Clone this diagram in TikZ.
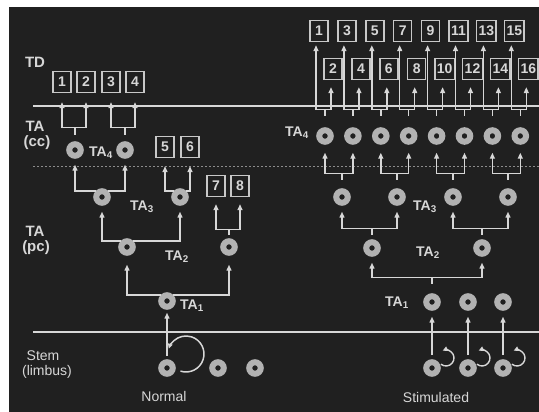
\documentclass[tikz,border=0pt]{standalone}
\usepackage{fontspec}
\setmainfont{Liberation Sans}
\usetikzlibrary{arrows.meta}
\definecolor{bg}{RGB}{32,32,32}
\definecolor{fg}{RGB}{215,215,215}
\definecolor{ring}{RGB}{178,178,178}
\definecolor{boxc}{RGB}{200,200,200}
\definecolor{dotc}{RGB}{140,140,140}
\begin{document}
\begin{tikzpicture}[x=1pt,y=1pt,
  cell/.style={circle, draw=ring, line width=6pt, minimum size=11.5pt, inner sep=0pt, fill=bg},
  num/.style={draw=boxc, line width=1.4pt, fill=bg, text=fg, font=\bfseries\fontsize{14}{14}\selectfont, minimum width=18pt, minimum height=21pt, inner xsep=2pt, inner ysep=1pt},
  lab/.style={text=fg, font=\bfseries\fontsize{15}{15}\selectfont, inner sep=0pt},
  tlab/.style={text=fg, font=\bfseries\fontsize{14}{14}\selectfont, inner sep=0pt},
  plab/.style={text=fg, font=\fontsize{14}{14}\selectfont, inner sep=0pt},
  conn/.style={draw=fg, line width=1.4pt},
  arr/.style={conn, -{Triangle[length=6pt,width=5pt]}},
  sarr/.style={conn, -{Triangle[length=5pt,width=4.5pt]}},
]
\useasboundingbox (0,0) rectangle (539,412);
\fill[white] (0,0) rectangle (539,412);
\fill[bg] (9,0) rectangle (539,405);

% level lines
\draw[fg, line width=1.6pt] (33,306) -- (539,306);
\draw[dotc, line width=1pt, dash pattern=on 2pt off 2pt] (33,245) -- (539,245);
\draw[fg, line width=1.5pt] (33,80) -- (539,80);

% side labels
\node[lab] (lTD) at (35,350) {TD};
\node[lab] (lTAc) at (35,286) {TA};
\node[lab] (lcc) at (37,269) {(cc)};
\node[lab] (lTAp) at (35,181) {TA};
\node[lab] (lpc) at (36,164) {(pc)};
\node[plab] (lstem) at (43,56) {Stem};
\node[plab] (llimb) at (47,40) {(limbus)};
\node[plab] (lnorm) at (164,16) {Normal};
\node[plab] (lstim) at (436,15) {Stimulated};

% ================= LEFT (normal) =================
\node[num] (a1) at (62,330) {1};
\node[num] (a2) at (86,330) {2};
\node[num] (a3) at (111,330) {3};
\node[num] (a4) at (135,330) {4};
\node[num] (a5) at (165,265) {5};
\node[num] (a6) at (190,265) {6};
\node[num] (a7) at (216,226) {7};
\node[num] (a8) at (240,226) {8};

\node[cell] (L4a) at (75,262) {};
\node[cell] (L4b) at (125,262) {};
\node[tlab] (tL4) at (101,259) {TA\textsubscript{4}};
\node[cell] (L3a) at (102,215) {};
\node[cell] (L3b) at (180,215) {};
\node[tlab] (tL3) at (142,205) {TA\textsubscript{3}};
\node[cell] (L2a) at (127,165) {};
\node[cell] (L2b) at (229,165) {};
\node[tlab] (tL2) at (177,155) {TA\textsubscript{2}};
\node[cell] (L1) at (167,111) {};
\node[tlab] (tL1) at (192,106) {TA\textsubscript{1}};
\node[cell] (S1) at (167,44) {};
\node[cell] (S2) at (218,44) {};
\node[cell] (S3) at (255,44) {};

% TA4 -> TD
\coordinate (jA) at ([yshift=14pt]L4a.north);
\coordinate (jB) at ([yshift=14pt]L4b.north);
\draw[conn] (jA) -- ++(0,-8);
\draw[conn] (jB) -- ++(0,-8);
\draw[arr, shorten >=9pt] (jA) -| (a1.south);
\draw[arr, shorten >=9pt] (jA) -| (a2.south);
\draw[arr, shorten >=9pt] (jB) -| (a3.south);
\draw[arr, shorten >=9pt] (jB) -| (a4.south);
% TA3 -> TA4 / 5,6
\draw[arr, shorten >=6pt] (L3a.135) -| (L4a.south);
\draw[arr, shorten >=6pt] (L3a.45) -| (L4b.south);
\draw[arr, shorten >=8pt] (L3b.135) -| (a5.south);
\draw[arr, shorten >=8pt] (L3b.45) -| (a6.south);
% TA2 -> TA3 / 7,8
\draw[arr, shorten >=6pt] (L2a.135) -| (L3a.south);
\draw[arr, shorten >=6pt] (L2a.45) -| (L3b.south);
\coordinate (jC) at ([yshift=9pt]L2b.north);
\draw[conn] (jC) -- ++(0,-6);
\draw[arr, shorten >=7pt] (jC) -| (a7.south);
\draw[arr, shorten >=7pt] (jC) -| (a8.south);
% TA1 -> TA2
\draw[arr, shorten >=9pt] (L1.135) -| (L2a.south);
\draw[arr, shorten >=9pt] (L1.45) -| (L2b.south);
% stem -> TA1
\draw[arr, shorten <=3pt, shorten >=3pt] (S1.north) -- (L1.south);
\coordinate (c0) at ([shift={(19,14)}]S1.center);
\draw[sarr, line width=1.5pt] (c0) ++(-108:18) arc[start angle=-108, end angle=163, radius=18];

% ================= RIGHT (stimulated) =================
\foreach \i in {1,...,8} {
  \pgfmathsetmacro{\cx}{325+27.9*(\i-1)}
  \pgfmathtruncatemacro{\nodd}{2*\i-1}
  \pgfmathtruncatemacro{\neven}{2*\i}
  \node[cell] (R4\i) at (\cx,276) {};
  \node[num] (td\nodd) at (\cx-6,381) {\nodd};
  \node[num] (td\neven) at (\cx+8,343) {\neven};
  \coordinate (q\i) at ([yshift=18pt]R4\i.north);
  \draw[conn] (q\i) -- ++(0,-7);
  \draw[arr, shorten >=3pt] (q\i) -| ([xshift=-3pt]td\nodd.south);
  \draw[arr, shorten >=7pt] (q\i) -| ([xshift=-2pt]td\neven.south);
}
\node[tlab] (tR4) at (297,279) {TA\textsubscript{4}};

\foreach \k/\x in {1/342,2/397,3/453,4/508} {
  \pgfmathtruncatemacro{\ra}{2*\k-1}
  \pgfmathtruncatemacro{\rb}{2*\k}
  \node[cell] (R3\k) at (\x,215) {};
  \coordinate (p\k) at ([yshift=15pt]R3\k.north);
  \draw[conn] (p\k) -- ++(0,-7);
  \draw[arr, shorten >=8pt] (p\k) -| (R4\ra.south);
  \draw[arr, shorten >=8pt] (p\k) -| (R4\rb.south);
}
\node[tlab] (tR3) at (425,205) {TA\textsubscript{3}};

\node[cell] (R2a) at (372,164) {};
\node[cell] (R2b) at (482,164) {};
\node[tlab] (tR2) at (428,159) {TA\textsubscript{2}};
\coordinate (m1) at ([yshift=11pt]R2a.north);
\coordinate (m2) at ([yshift=11pt]R2b.north);
\draw[conn] (m1) -- ++(0,-7);
\draw[conn] (m2) -- ++(0,-7);
\draw[arr, shorten >=6pt] (m1) -| (R31.south);
\draw[arr, shorten >=6pt] (m1) -| (R32.south);
\draw[arr, shorten >=6pt] (m2) -| (R33.south);
\draw[arr, shorten >=6pt] (m2) -| (R34.south);

\node[cell] (R1a) at (432,110) {};
\node[cell] (R1b) at (468,110) {};
\node[cell] (R1c) at (503,110) {};
\node[tlab] (tR1) at (397,109) {TA\textsubscript{1}};
\coordinate (n1) at ([yshift=16pt]R1a.north);
\draw[conn] (n1) -- ++(0,-7);
\draw[arr, shorten >=6pt] (n1) -| (R2a.south);
\draw[arr, shorten >=6pt] (n1) -| (R2b.south);

\node[cell] (T1) at (432,44) {};
\node[cell] (T2) at (468,44) {};
\node[cell] (T3) at (503,44) {};
\foreach \t/\r in {T1/R1a,T2/R1b,T3/R1c} {
  \draw[arr, shorten <=4pt, shorten >=6pt] (\t.north) -- (\r.south);
  \coordinate (cc\t) at ([shift={(14,10)}]\t.center);
  \draw[sarr] (cc\t) ++(-130:8) arc[start angle=-130, end angle=115, radius=8];
}
\end{tikzpicture}
\end{document}
